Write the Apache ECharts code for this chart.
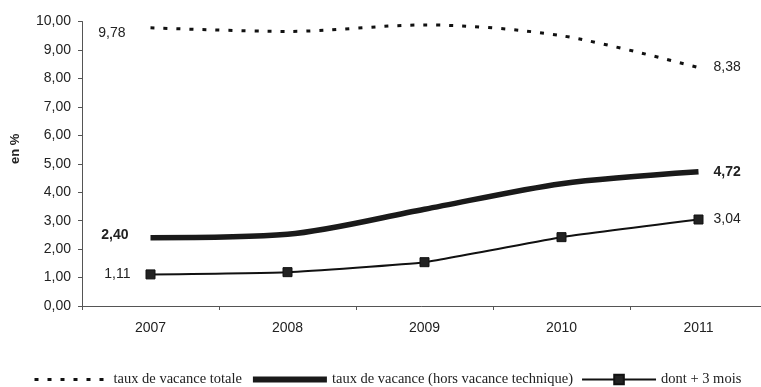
<!DOCTYPE html>
<html><head><meta charset="utf-8">
<script src="https://cdn.jsdelivr.net/npm/echarts@6/dist/echarts.min.js"></script>
<style>html,body{margin:0;padding:0;background:#fff}#c{width:761px;height:387px}</style>
</head><body><div id="c"></div>
<script>
const categories = ['2007','2008','2009','2010','2011'];
const totale = [9.78, 9.65, 9.88, 9.50, 8.38];
const horsTech = [2.40, 2.52, 3.40, 4.30, 4.72];
const plus3mois = [1.11, 1.19, 1.54, 2.42, 3.04];
const seriesNames = ['taux de vacance totale', 'taux de vacance (hors vacance technique)', 'dont + 3 mois'];
const yTicks = [0,1,2,3,4,5,6,7,8,9,10];

const fmt = v => v.toFixed(2).replace('.', ',');
function withEndLabels(vals, bold, leftDist, rightDist, leftOffset, endSymbol) {
  return vals.map((v, i) => {
    const w = bold ? 'bold' : 'normal';
    if (i === 0) return Object.assign({value: v, label: {show: true, position: 'left', distance: leftDist, offset: leftOffset || [0,0], fontWeight: w}}, endSymbol || {});
    if (i === vals.length - 1) return Object.assign({value: v, label: {show: true, position: 'right', distance: rightDist, fontWeight: w}}, endSymbol || {});
    return {value: v, label: {show: false}};
  });
}
const sansFont = 'Liberation Sans, Arial, sans-serif';
const labelBase = {color: '#222', fontSize: 14, fontFamily: sansFont, formatter: p => fmt(p.value)};
const tinySym = {symbol: 'circle', symbolSize: 0.1};
const clearItem = {color: 'rgba(0,0,0,0)', borderWidth: 0, borderColor: 'rgba(0,0,0,0)'};

const chart = echarts.init(document.getElementById('c'));
chart.setOption({
  animation: false,
  grid: {left: 82, width: 685, top: 21.5, bottom: 81, outerBoundsMode: 'none', containLabel: false},
  legend: {
    top: 367, left: 28, width: 760, padding: [5, 0, 5, 5], itemWidth: 74, itemHeight: 12, itemGap: 8,
    textStyle: {fontFamily: 'Liberation Serif, Times New Roman, serif', fontSize: 14.5, color: '#222'},
    data: [
      {name: seriesNames[0], lineStyle: {width: 3, type: [4, 9], color: '#111'}, itemStyle: clearItem},
      {name: seriesNames[1], lineStyle: {width: 6, color: '#1a1a1a'}, itemStyle: clearItem},
      {name: seriesNames[2], lineStyle: {width: 2, color: '#111'}}
    ]
  },
  xAxis: {
    type: 'category', data: categories, boundaryGap: true,
    axisLine: {lineStyle: {color: '#555', width: 1}},
    axisTick: {show: true, length: 4, lineStyle: {color: '#555'}},
    axisLabel: {color: '#222', fontSize: 14, fontFamily: sansFont, margin: 15}
  },
  yAxis: {
    type: 'value', min: yTicks[0], max: yTicks[yTicks.length-1], interval: 1,
    name: 'en %', nameLocation: 'middle', nameGap: 60, nameRotate: 90,
    nameTextStyle: {color: '#222', fontSize: 13, fontWeight: 'bold', fontFamily: sansFont, padding: [0,0,0,30]},
    axisLine: {show: true, lineStyle: {color: '#555', width: 1}},
    axisTick: {show: true, length: 4, lineStyle: {color: '#555'}},
    splitLine: {show: false},
    axisLabel: {color: '#222', fontSize: 14, fontFamily: sansFont, margin: 11, formatter: v => fmt(v)}
  },
  series: [
    {
      name: seriesNames[0], type: 'line', smooth: 0.3,
      data: withEndLabels(totale, false, 25, 15, [0, 5], tinySym),
      symbol: 'none',
      lineStyle: {color: '#111', width: 3, type: [4, 9]},
      itemStyle: {color: '#111'},
      label: labelBase
    },
    {
      name: seriesNames[1], type: 'line', smooth: 0.3,
      data: withEndLabels(horsTech, true, 22, 15, [0, -3], tinySym),
      symbol: 'none',
      lineStyle: {color: '#1a1a1a', width: 5.5},
      itemStyle: {color: '#1a1a1a'},
      label: labelBase
    },
    {
      name: seriesNames[2], type: 'line', smooth: 0.12,
      data: withEndLabels(plus3mois, false, 15, 10),
      symbol: 'rect', symbolSize: 9,
      lineStyle: {color: '#111', width: 2},
      itemStyle: {color: '#222', borderColor: '#111', borderWidth: 1},
      label: labelBase
    }
  ]
});
</script></body></html>
